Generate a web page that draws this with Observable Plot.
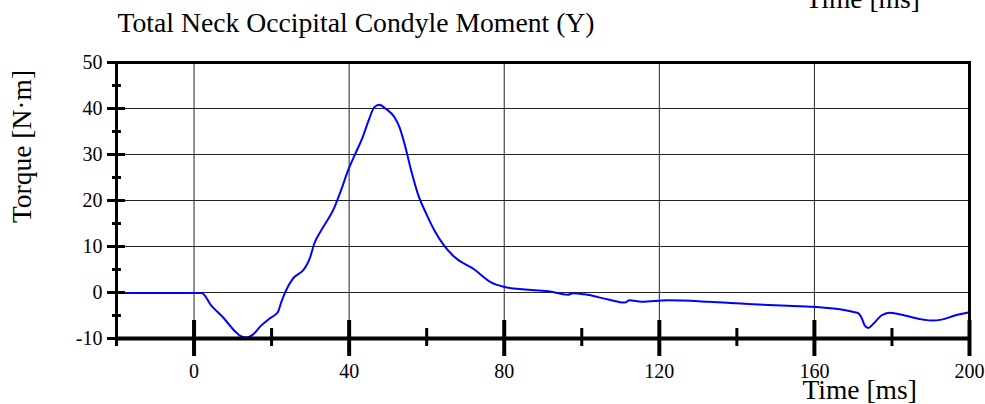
<!DOCTYPE html>
<html><head><meta charset="utf-8">
<script src="https://cdn.jsdelivr.net/npm/d3@7"></script>
<script src="https://cdn.jsdelivr.net/npm/@observablehq/plot@0.6"></script>
<style>body{margin:0;background:#fff} svg{display:block}</style>
</head><body><div id="chart"></div>
<script>
const title = "Total Neck Occipital Condyle Moment (Y)";
const xLabel = "Time [ms]";
const yLabel = "Torque [N·m]";
const times = [-20, 2, 4.4, 7.8, 10.4, 12.1, 13.4, 15.1, 17.3, 19.4, 21.6, 22.5, 23.7, 25.5, 28.5, 29.8, 31.0, 32.8, 36.2, 37.9, 39.7, 41.4, 43.5, 45.2, 46.5, 47.8, 49.5, 51.7, 53.0, 54.3, 56.0, 57.7, 59.9, 62.0, 64.5, 67.2, 72.3, 76.6, 80.1, 85.2, 91.3, 96.4, 97.7, 100.7, 106.8, 111.1, 112.3, 115.4, 122.2, 132.6, 142.9, 156.1, 161.3, 165.0, 170.4, 171.3, 172.1, 173.0, 173.9, 175.2, 177.3, 179.4, 183.3, 186.8, 190.2, 192.8, 196.2, 200];
const torque = [-0.1, -0.1, -2.8, -5.7, -8.3, -9.5, -9.8, -9.2, -7.2, -5.7, -4.3, -2.1, 0.4, 3.0, 5.2, 7.3, 10.6, 13.5, 18.5, 22.2, 26.5, 29.8, 33.8, 37.8, 40.3, 40.8, 39.9, 38.1, 35.9, 32.3, 26.5, 21.5, 17.1, 13.5, 10.2, 7.7, 5.0, 2.2, 1.2, 0.65, 0.3, -0.5, -0.15, -0.4, -1.5, -2.2, -1.7, -2.0, -1.7, -2.0, -2.5, -3.0, -3.2, -3.5, -4.3, -4.5, -5.4, -7.2, -7.7, -6.8, -5.0, -4.4, -5.0, -5.7, -6.1, -5.9, -5.0, -4.3];
const xMajorTicks = [0, 40, 80, 120, 160, 200];
const xMinorTicks = [-20, 20, 60, 100, 140, 180];
const yMajorTicks = [-10, 0, 10, 20, 30, 40, 50];
const yMinorTicks = [-5, 5, 15, 25, 35, 45];
const xGrid = [0, 40, 80, 120, 160];
const yGrid = [0, 10, 20, 30, 40];

const data = times.map((t, i) => ({t, v: torque[i]}));
const font = "'Liberation Serif', 'Times New Roman', serif";
const fmt = d => String(d);

const chart = Plot.plot({
  width: 985, height: 404,
  marginLeft: 116, marginRight: 16, marginTop: 62, marginBottom: 66,
  style: {fontFamily: font, background: "white", color: "black", overflow: "visible"},
  x: {domain: [-20, 200]},
  y: {domain: [-10, 50]},
  marks: [
    Plot.ruleX(xGrid, {stroke: "#222", strokeWidth: 1}),
    Plot.ruleY(yGrid, {stroke: "#222", strokeWidth: 1}),
    Plot.line(data, {x: "t", y: "v", stroke: "#0000ff", strokeWidth: 2, curve: "monotone-x"}),
    Plot.frame({stroke: "black", strokeWidth: 3}),
    Plot.ruleY([-10], {stroke: "black", strokeWidth: 4}),
    Plot.axisY(yMajorTicks, {tickSize: 18, dx: 9, fill: "none", stroke: "black", strokeWidth: 3, label: null}),
    Plot.axisY(yMinorTicks, {tickSize: 9, dx: 5, fill: "none", stroke: "black", strokeWidth: 3, label: null}),
    Plot.axisY(yMajorTicks, {tickSize: 0, tickPadding: 14, fontSize: 20, fill: "black", label: null, tickFormat: fmt}),
    Plot.axisX(xMajorTicks, {tickSize: 36, dy: -18, fill: "none", stroke: "black", strokeWidth: 4, label: null}),
    Plot.axisX(xMinorTicks, {tickSize: 18, dy: -10, fill: "none", stroke: "black", strokeWidth: 3, label: null}),
    Plot.axisX(xMajorTicks, {tickSize: 0, tickPadding: 25, fontSize: 20, fill: "black", label: null, tickFormat: fmt}),
    Plot.text([title], {frameAnchor: "top-left", dx: 1, dy: -31, textAnchor: "start", lineAnchor: "bottom", fontSize: 27.7, fill: "black"}),
    Plot.text([xLabel], {frameAnchor: "top-left", dx: 689, dy: -55, textAnchor: "start", lineAnchor: "bottom", fontSize: 27.5, fill: "black"}),
    Plot.text([xLabel], {frameAnchor: "bottom-left", dx: 686, dy: 60, textAnchor: "start", lineAnchor: "bottom", fontSize: 27.5, fill: "black"}),
    Plot.text([yLabel], {frameAnchor: "left", dx: -86, dy: -54, rotate: -90, textAnchor: "middle", lineAnchor: "bottom", fontSize: 27.5, fill: "black"})
  ]
});
document.getElementById("chart").append(chart);
</script>
</body></html>
